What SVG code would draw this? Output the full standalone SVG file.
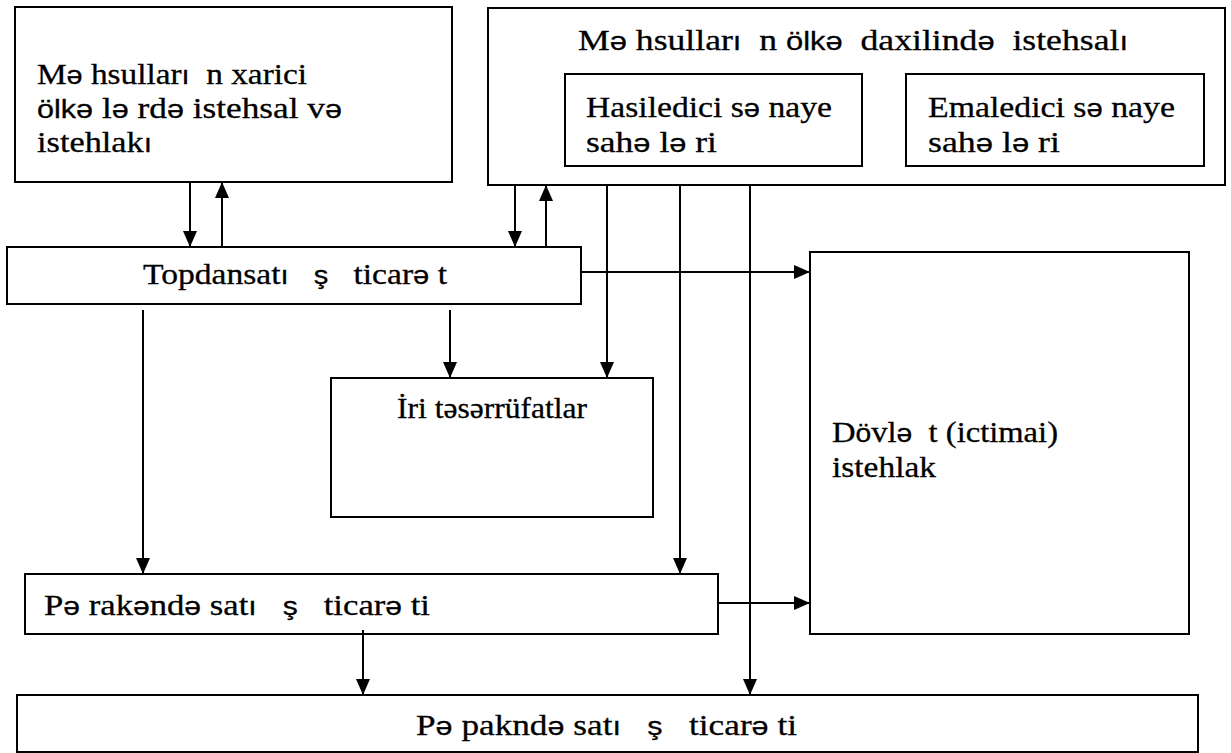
<svg xmlns="http://www.w3.org/2000/svg" width="1231" height="753" viewBox="0 0 1231 753">
<style>
  .box { fill: #ffffff; stroke: #000000; stroke-width: 2; }
  .t { font-family: "Liberation Serif", "Times New Roman", serif; font-size: 30px; fill: #000000; stroke: #000000; stroke-width: 0.3; }
  .a { font-family: "Liberation Sans", Arial, sans-serif; font-size: 26px; }
  .c { stroke: #000000; stroke-width: 2; fill: none; marker-end: url(#ah); }
</style>
<defs>
  <marker id="ah" viewBox="0 0 16 14" refX="16" refY="7" markerWidth="16" markerHeight="14" markerUnits="userSpaceOnUse" orient="auto">
    <path d="M0,0 L16,7 L0,14 Z" fill="#000000"/>
  </marker>
</defs>
<rect width="1231" height="753" fill="#ffffff"/>

<g id="xarici">
  <rect class="box" x="15" y="7" width="437" height="175"/>
  <text class="t" xml:space="preserve" x="37" y="84" textLength="270" lengthAdjust="spacingAndGlyphs">M<tspan class="a">ə</tspan> hsullar<tspan class="a">ı</tspan>  n xarici</text>
  <text class="t" xml:space="preserve" x="37" y="118" textLength="305" lengthAdjust="spacingAndGlyphs"><tspan class="a">ölkə</tspan> l<tspan class="a">ə</tspan> rd<tspan class="a">ə</tspan> istehsal v<tspan class="a">ə</tspan></text>
  <text class="t" xml:space="preserve" x="37" y="152" textLength="115" lengthAdjust="spacingAndGlyphs">istehlak<tspan class="a">ı</tspan></text>
</g>

<g id="daxili">
  <rect class="box" x="488" y="8" width="737" height="177"/>
  <text class="t" xml:space="preserve" x="578" y="50" textLength="550" lengthAdjust="spacingAndGlyphs">M<tspan class="a">ə</tspan> hsullar<tspan class="a">ı</tspan>  n <tspan class="a">ölkə</tspan>  daxilind<tspan class="a">ə</tspan>  istehsal<tspan class="a">ı</tspan></text>
</g>

<g id="hasiledici">
  <rect class="box" x="565" y="74" width="297" height="92"/>
  <text class="t" xml:space="preserve" x="586" y="117" textLength="246" lengthAdjust="spacingAndGlyphs">Hasiledici s<tspan class="a">ə</tspan> naye</text>
  <text class="t" xml:space="preserve" x="586" y="152" textLength="131" lengthAdjust="spacingAndGlyphs">sah<tspan class="a">ə</tspan> l<tspan class="a">ə</tspan> ri</text>
</g>

<g id="emaledici">
  <rect class="box" x="906" y="74" width="298" height="92"/>
  <text class="t" xml:space="preserve" x="928" y="117" textLength="247" lengthAdjust="spacingAndGlyphs">Emaledici s<tspan class="a">ə</tspan> naye</text>
  <text class="t" xml:space="preserve" x="928" y="152" textLength="132" lengthAdjust="spacingAndGlyphs">sah<tspan class="a">ə</tspan> l<tspan class="a">ə</tspan> ri</text>
</g>

<g id="topdansatis">
  <rect class="box" x="7" y="247" width="574" height="57"/>
  <text class="t" xml:space="preserve" x="143" y="284" textLength="304" lengthAdjust="spacingAndGlyphs">Topdansat<tspan class="a">ı</tspan>   <tspan class="a">ş</tspan>   ticar<tspan class="a">ə</tspan> t</text>
</g>

<g id="iri">
  <rect class="box" x="331" y="378" width="322" height="139"/>
  <text class="t" x="397" y="418" textLength="190" lengthAdjust="spacingAndGlyphs">İri təsərrüfatlar</text>
</g>

<g id="dovlet">
  <rect class="box" x="810" y="252" width="379" height="382"/>
  <text class="t" xml:space="preserve" x="832" y="442" textLength="226" lengthAdjust="spacingAndGlyphs">D<tspan class="a">ö</tspan>vl<tspan class="a">ə</tspan>  t (ictimai)</text>
  <text class="t" x="832" y="477" textLength="104" lengthAdjust="spacingAndGlyphs">istehlak</text>
</g>

<g id="perakende">
  <rect class="box" x="25" y="574" width="693" height="60"/>
  <text class="t" xml:space="preserve" x="44" y="615" textLength="386" lengthAdjust="spacingAndGlyphs">P<tspan class="a">ə</tspan> rak<tspan class="a">ə</tspan>nd<tspan class="a">ə</tspan> sat<tspan class="a">ı</tspan>   <tspan class="a">ş</tspan>   ticar<tspan class="a">ə</tspan> ti</text>
</g>

<g id="perakende2">
  <rect class="box" x="17" y="695" width="1181" height="57"/>
  <text class="t" xml:space="preserve" x="416" y="735" textLength="381" lengthAdjust="spacingAndGlyphs">P<tspan class="a">ə</tspan> paknd<tspan class="a">ə</tspan> sat<tspan class="a">ı</tspan>   <tspan class="a">ş</tspan>   ticar<tspan class="a">ə</tspan> ti</text>
</g>

<g id="connectors">
  <line class="c" x1="190" y1="182" x2="190" y2="247"/>
  <line class="c" x1="222" y1="247" x2="222" y2="182"/>
  <line class="c" x1="515" y1="185" x2="515" y2="247"/>
  <line class="c" x1="546" y1="247" x2="546" y2="185"/>
  <line class="c" x1="607" y1="185" x2="607" y2="378"/>
  <line class="c" x1="680" y1="185" x2="680" y2="574"/>
  <line class="c" x1="750" y1="185" x2="750" y2="695"/>
  <line class="c" x1="581" y1="272" x2="810" y2="272"/>
  <line class="c" x1="143" y1="310" x2="143" y2="574"/>
  <line class="c" x1="450" y1="310" x2="450" y2="378"/>
  <line class="c" x1="718" y1="603" x2="810" y2="603"/>
  <line class="c" x1="363" y1="630" x2="363" y2="695"/>
</g>
</svg>
